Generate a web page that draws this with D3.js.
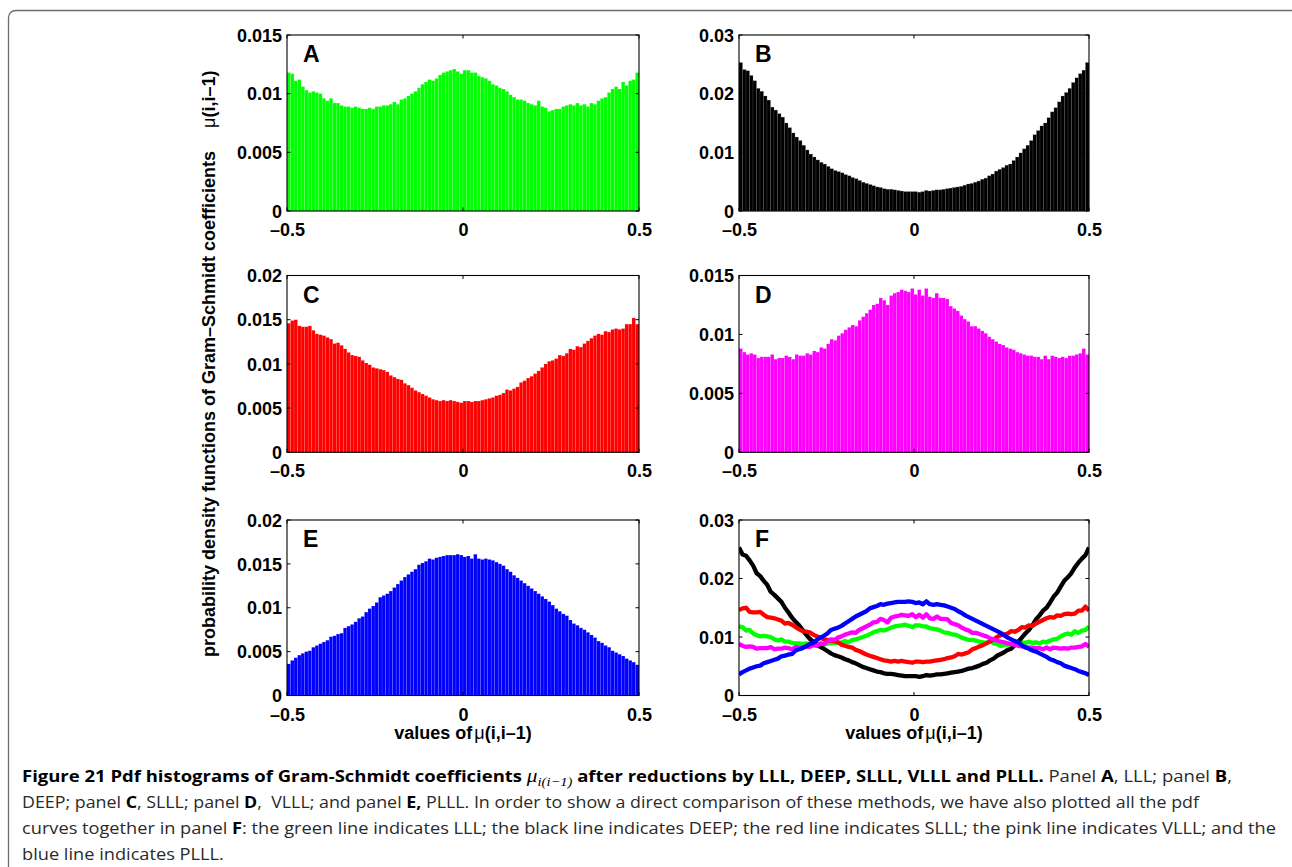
<!DOCTYPE html>
<html>
<head>
<meta charset="utf-8">
<script src="https://cdn.jsdelivr.net/npm/d3@7"></script>
<style>
  body { margin: 0; background: #fff; }
  svg { display: block; }
</style>
</head>
<body>
<svg id="fig" width="1292" height="867"></svg>
<script>
// Empirical pdf of mu(i,i-1), 100 equal bins over [-0.5, 0.5], one array per reduction method.
const lllPdf = [
  0.0118, 0.0117, 0.0111, 0.0112, 0.0106, 0.0103, 0.0101, 0.0102, 0.0101, 0.0100,
  0.0096, 0.0094, 0.0096, 0.0092, 0.0092, 0.0090, 0.0089, 0.0089, 0.0088, 0.0089,
  0.0088, 0.0087, 0.0087, 0.0088, 0.0087, 0.0089, 0.0089, 0.0090, 0.0090, 0.0091,
  0.0093, 0.0091, 0.0095, 0.0096, 0.0098, 0.0100, 0.0102, 0.0105, 0.0108, 0.0110,
  0.0112, 0.0111, 0.0113, 0.0116, 0.0118, 0.0119, 0.0120, 0.0121, 0.0119, 0.0117,
  0.0120, 0.0120, 0.0118, 0.0118, 0.0115, 0.0114, 0.0113, 0.0111, 0.0108, 0.0107,
  0.0105, 0.0104, 0.0102, 0.0099, 0.0097, 0.0095, 0.0095, 0.0094, 0.0092, 0.0091,
  0.0090, 0.0094, 0.0089, 0.0088, 0.0085, 0.0086, 0.0087, 0.0087, 0.0089, 0.0090,
  0.0091, 0.0090, 0.0092, 0.0090, 0.0091, 0.0089, 0.0092, 0.0091, 0.0094, 0.0096,
  0.0097, 0.0101, 0.0104, 0.0106, 0.0104, 0.0110, 0.0107, 0.0111, 0.0112, 0.0118
];
const deepPdf = [
  0.0253, 0.0241, 0.0239, 0.0231, 0.0222, 0.0209, 0.0204, 0.0196, 0.0189, 0.0177,
  0.0172, 0.0166, 0.0160, 0.0150, 0.0142, 0.0133, 0.0126, 0.0120, 0.0112, 0.0104,
  0.0097, 0.0092, 0.0087, 0.0083, 0.0080, 0.0076, 0.0072, 0.0069, 0.0067, 0.0065,
  0.0062, 0.0060, 0.0057, 0.0055, 0.0052, 0.0049, 0.0047, 0.0045, 0.0043, 0.0041,
  0.0040, 0.0038, 0.0037, 0.0037, 0.0036, 0.0035, 0.0034, 0.0033, 0.0033, 0.0033,
  0.0033, 0.0032, 0.0033, 0.0035, 0.0034, 0.0035, 0.0036, 0.0036, 0.0037, 0.0038,
  0.0039, 0.0040, 0.0041, 0.0042, 0.0044, 0.0046, 0.0047, 0.0049, 0.0051, 0.0054,
  0.0056, 0.0060, 0.0063, 0.0068, 0.0071, 0.0074, 0.0078, 0.0080, 0.0086, 0.0092,
  0.0099, 0.0106, 0.0112, 0.0120, 0.0130, 0.0137, 0.0145, 0.0150, 0.0159, 0.0169,
  0.0176, 0.0186, 0.0196, 0.0202, 0.0209, 0.0219, 0.0227, 0.0234, 0.0240, 0.0253
];
const slllPdf = [
  0.0146, 0.0149, 0.0150, 0.0143, 0.0142, 0.0142, 0.0143, 0.0138, 0.0134, 0.0133,
  0.0132, 0.0130, 0.0128, 0.0123, 0.0124, 0.0121, 0.0117, 0.0113, 0.0110, 0.0109,
  0.0108, 0.0104, 0.0101, 0.0099, 0.0096, 0.0095, 0.0094, 0.0093, 0.0091, 0.0087,
  0.0085, 0.0083, 0.0082, 0.0078, 0.0076, 0.0073, 0.0070, 0.0068, 0.0066, 0.0064,
  0.0062, 0.0060, 0.0059, 0.0058, 0.0059, 0.0058, 0.0059, 0.0058, 0.0057, 0.0056,
  0.0058, 0.0058, 0.0057, 0.0058, 0.0058, 0.0059, 0.0060, 0.0061, 0.0062, 0.0064,
  0.0065, 0.0067, 0.0071, 0.0070, 0.0072, 0.0074, 0.0079, 0.0081, 0.0084, 0.0086,
  0.0089, 0.0092, 0.0096, 0.0100, 0.0103, 0.0104, 0.0106, 0.0110, 0.0109, 0.0112,
  0.0117, 0.0116, 0.0120, 0.0119, 0.0123, 0.0126, 0.0129, 0.0132, 0.0134, 0.0133,
  0.0137, 0.0136, 0.0139, 0.0140, 0.0139, 0.0140, 0.0145, 0.0145, 0.0152, 0.0145
];
const vlllPdf = [
  0.0088, 0.0085, 0.0083, 0.0084, 0.0083, 0.0080, 0.0081, 0.0081, 0.0081, 0.0083,
  0.0079, 0.0080, 0.0080, 0.0082, 0.0081, 0.0079, 0.0083, 0.0082, 0.0082, 0.0084,
  0.0083, 0.0086, 0.0085, 0.0089, 0.0088, 0.0092, 0.0096, 0.0095, 0.0099, 0.0101,
  0.0104, 0.0106, 0.0108, 0.0107, 0.0112, 0.0115, 0.0118, 0.0121, 0.0125, 0.0126,
  0.0131, 0.0129, 0.0125, 0.0133, 0.0135, 0.0136, 0.0138, 0.0137, 0.0136, 0.0139,
  0.0134, 0.0138, 0.0133, 0.0139, 0.0132, 0.0131, 0.0135, 0.0131, 0.0131, 0.0130,
  0.0124, 0.0122, 0.0120, 0.0116, 0.0113, 0.0111, 0.0107, 0.0107, 0.0105, 0.0103,
  0.0101, 0.0098, 0.0096, 0.0094, 0.0092, 0.0091, 0.0089, 0.0088, 0.0087, 0.0085,
  0.0084, 0.0083, 0.0082, 0.0082, 0.0081, 0.0081, 0.0079, 0.0082, 0.0079, 0.0082,
  0.0081, 0.0080, 0.0081, 0.0080, 0.0082, 0.0082, 0.0083, 0.0084, 0.0088, 0.0083
];
const plllPdf = [
  0.0036, 0.0040, 0.0043, 0.0046, 0.0048, 0.0050, 0.0051, 0.0055, 0.0057, 0.0059,
  0.0061, 0.0063, 0.0067, 0.0068, 0.0070, 0.0071, 0.0077, 0.0079, 0.0081, 0.0084,
  0.0088, 0.0090, 0.0095, 0.0099, 0.0102, 0.0106, 0.0112, 0.0114, 0.0116, 0.0119,
  0.0123, 0.0127, 0.0131, 0.0135, 0.0138, 0.0141, 0.0144, 0.0149, 0.0151, 0.0153,
  0.0156, 0.0155, 0.0157, 0.0158, 0.0159, 0.0160, 0.0160, 0.0160, 0.0161, 0.0160,
  0.0158, 0.0159, 0.0156, 0.0161, 0.0156, 0.0155, 0.0156, 0.0155, 0.0154, 0.0152,
  0.0150, 0.0148, 0.0144, 0.0141, 0.0137, 0.0134, 0.0131, 0.0128, 0.0125, 0.0122,
  0.0119, 0.0116, 0.0113, 0.0110, 0.0107, 0.0103, 0.0099, 0.0096, 0.0093, 0.0091,
  0.0086, 0.0082, 0.0080, 0.0077, 0.0075, 0.0072, 0.0069, 0.0066, 0.0062, 0.0060,
  0.0057, 0.0055, 0.0051, 0.0049, 0.0047, 0.0045, 0.0042, 0.0040, 0.0038, 0.0035
];

// Axis ticks and their printed labels
const xTicks = [-0.5, 0, 0.5];
const xTickLabels = ["\u20130.5", "0", "0.5"];
const yTicks015 = [0, 0.005, 0.01, 0.015];
const yLabels015 = ["0", "0.005", "0.01", "0.015"];
const yTicks02 = [0, 0.005, 0.01, 0.015, 0.02];
const yLabels02 = ["0", "0.005", "0.01", "0.015", "0.02"];
const yTicks03 = [0, 0.01, 0.02, 0.03];
const yLabels03 = ["0", "0.01", "0.02", "0.03"];

const methodNames = ["LLL", "DEEP", "SLLL", "VLLL", "PLLL"];
const methodColors = ["#00ff00", "#000000", "#ff0000", "#ff00ff", "#0000ff"];
const methodSeries = [lllPdf, deepPdf, slllPdf, vlllPdf, plllPdf];

// ---- layout ----
const colX = [[287, 639], [739, 1089]];
const rowY = [[35, 211], [275.5, 452.3], [520, 695.5]];
const axisFont = "'Liberation Sans', Arial, Helvetica, sans-serif";
const tickLen = 3.5;

const svg = d3.select("#fig");

// outer frame of the figure box
svg.append("rect")
  .attr("x", 8.5).attr("y", 10.5)
  .attr("width", 1300).attr("height", 900)
  .attr("rx", 7).attr("ry", 7)
  .attr("fill", "none").attr("stroke", "#6d6d6d").attr("stroke-width", 1.3);

const panels = [
  { letter: "A", col: 0, row: 0, kind: "bar", series: [0], ticks: yTicks015, labels: yLabels015 },
  { letter: "B", col: 1, row: 0, kind: "bar", series: [1], ticks: yTicks03, labels: yLabels03 },
  { letter: "C", col: 0, row: 1, kind: "bar", series: [2], ticks: yTicks02, labels: yLabels02 },
  { letter: "D", col: 1, row: 1, kind: "bar", series: [3], ticks: yTicks015, labels: yLabels015 },
  { letter: "E", col: 0, row: 2, kind: "bar", series: [4], ticks: yTicks02, labels: yLabels02 },
  { letter: "F", col: 1, row: 2, kind: "line", series: [0, 1, 2, 3, 4], ticks: yTicks03, labels: yLabels03 }
];

const defs = svg.append("defs");

panels.forEach((p, pi) => {
  const [x0, x1] = colX[p.col];
  const [y0, y1] = rowY[p.row];
  const yMax = p.ticks[p.ticks.length - 1];

  const x = d3.scaleLinear().domain([-0.5, 0.5]).range([x0, x1]);
  const y = d3.scaleLinear().domain([0, yMax]).range([y1, y0]);
  const g = svg.append("g");

  if (p.kind === "bar") {
    const s = p.series[0];
    const data = methodSeries[s];
    const band = d3.scaleBand().domain(d3.range(data.length)).range([x0, x1]).padding(0);
    g.append("g").selectAll("rect")
      .data(data)
      .join("rect")
      .attr("x", (d, i) => band(i))
      .attr("width", band.bandwidth())
      .attr("y", d => y(d))
      .attr("height", d => y(0) - y(d))
      .attr("fill", methodColors[s])
      .attr("stroke", s === 1 ? "rgba(110,110,110,0.45)" : "rgba(255,255,255,0.2)")
      .attr("stroke-width", 0.5);
  } else {
    const clipId = "clip" + pi;
    defs.append("clipPath").attr("id", clipId)
      .append("rect").attr("x", x0).attr("y", y0).attr("width", x1 - x0).attr("height", y1 - y0);
    const lg = g.append("g").attr("clip-path", `url(#${clipId})`);
    p.series.forEach(s => {
      const data = methodSeries[s];
      const xi = d3.scaleLinear().domain([0, data.length - 1]).range([x0, x1]);
      const line = d3.line().x((d, i) => xi(i)).y(d => y(d));
      lg.append("path")
        .datum(data)
        .attr("d", line)
        .attr("fill", "none")
        .attr("stroke", methodColors[s])
        .attr("stroke-width", 4.3)
        .attr("stroke-linejoin", "round")
        .attr("stroke-linecap", "butt");
    });
  }

  // axes: bottom/left labelled, ticks pointing inward on all four sides
  const bottom = d3.axisBottom(x).tickValues(xTicks).tickSize(0).tickPadding(0)
    .tickFormat((d, i) => xTickLabels[i]);
  const left = d3.axisLeft(y).tickValues(p.ticks).tickSize(0).tickPadding(0)
    .tickFormat((d, i) => p.labels[i]);

  const gb = g.append("g").attr("transform", `translate(0,${y1})`).call(bottom);
  gb.select(".domain").remove();
  gb.selectAll("text")
    .attr("y", 25).attr("dy", 0)
    .attr("font-family", axisFont).attr("font-weight", "bold").attr("font-size", 18)
    .attr("fill", "#000");

  const gl = g.append("g").attr("transform", `translate(${x0},0)`).call(left);
  gl.select(".domain").remove();
  gl.selectAll("text")
    .attr("x", -5).attr("dy", "0.34em")
    .attr("font-family", axisFont).attr("font-weight", "bold").attr("font-size", 18)
    .attr("fill", "#000");

  const tk = g.append("g").attr("stroke", "#000").attr("stroke-width", 1);
  xTicks.forEach(v => {
    tk.append("line").attr("x1", x(v)).attr("x2", x(v)).attr("y1", y1).attr("y2", y1 - tickLen);
    tk.append("line").attr("x1", x(v)).attr("x2", x(v)).attr("y1", y0).attr("y2", y0 + tickLen);
  });
  p.ticks.forEach(v => {
    tk.append("line").attr("x1", x0).attr("x2", x0 + tickLen).attr("y1", y(v)).attr("y2", y(v));
    tk.append("line").attr("x1", x1).attr("x2", x1 - tickLen).attr("y1", y(v)).attr("y2", y(v));
  });

  g.append("rect")
    .attr("x", x0).attr("y", y0).attr("width", x1 - x0).attr("height", y1 - y0)
    .attr("fill", "none").attr("stroke", "#000").attr("stroke-width", 1.1);

  g.append("text")
    .attr("x", x0 + 16).attr("y", y0 + 27)
    .attr("font-family", axisFont).attr("font-weight", "bold").attr("font-size", 23)
    .attr("fill", "#000")
    .text(p.letter);

  // x-axis title under the bottom row
  if (p.row === 2) {
    const t = g.append("text")
      .attr("x", (x0 + x1) / 2).attr("y", 739)
      .attr("text-anchor", "middle")
      .attr("font-family", axisFont).attr("font-weight", "bold").attr("font-size", 18)
      .attr("fill", "#000");
    t.append("tspan").text("values of");
    t.append("tspan").attr("font-weight", "normal").attr("dx", 2).text("\u03bc");
    t.append("tspan").text("(i,i\u20131)");
  }
});

// shared y-axis title
const yt = svg.append("text")
  .attr("transform", "translate(215,657) rotate(-90)")
  .attr("font-family", axisFont).attr("font-weight", "bold").attr("font-size", 18)
  .attr("fill", "#000");
yt.append("tspan").text("probability density functions of Gram\u2013Schmidt coefficients");
yt.append("tspan").attr("dx", 23).attr("font-weight", "normal").text("\u03bc");
yt.append("tspan").text("(i,i\u20131)");

// ---- caption ----
const capFont = "'Open Sans', 'Noto Sans', sans-serif";
const capLines = [
  { y: 782, len: 1210, parts: [
    { t: "Figure 21 Pdf histograms of Gram-Schmidt coefficients ", b: true },
    { t: "\u03bc", m: true },
    { t: "i(i\u22121)", m: true, sub: true },
    { t: " after reductions by LLL, DEEP, SLLL, VLLL and PLLL.", b: true, shift: true },
    { t: " Panel " }, { t: "A", b: true }, { t: ", LLL; panel " }, { t: "B", b: true }, { t: "," }
  ]},
  { y: 808, len: 1177, parts: [
    { t: "DEEP; panel " }, { t: "C", b: true }, { t: ", SLLL; panel " }, { t: "D", b: true },
    { t: ",  VLLL; and panel " }, { t: "E,", b: true },
    { t: " PLLL. In order to show a direct comparison of these methods, we have also plotted all the pdf" }
  ]},
  { y: 834, len: 1254, parts: [
    { t: "curves together in panel " }, { t: "F", b: true },
    { t: ": the green line indicates LLL; the black line indicates DEEP; the red line indicates SLLL; the pink line indicates VLLL; and the" }
  ]},
  { y: 860, len: null, parts: [ { t: "blue line indicates PLLL." } ] }
];

const capTexts = capLines.map(line => {
  const t = svg.append("text")
    .attr("x", 22).attr("y", line.y)
    .attr("font-family", capFont).attr("font-size", 16.5)
    .attr("fill", "#2a2a2a")
    .attr("xml:space", "preserve");
  line.parts.forEach(part => {
    const ts = t.append("tspan").text(part.t);
    if (part.b) ts.attr("font-weight", "bold").attr("fill", "#000");
    if (part.m) {
      ts.attr("font-family", "'Liberation Serif', 'DejaVu Serif', serif")
        .attr("font-style", "italic").attr("fill", "#000").attr("font-size", 19);
    }
    if (part.sub) ts.attr("font-size", 13).attr("dy", 4);
    if (part.shift) ts.attr("dy", -4);
  });
  return t;
});

// condense the caption to its column: the last line gets the same squeeze as the full line above it
const refNatural = capTexts[2].node().getComputedTextLength();
const squeeze = capLines[2].len / refNatural;
capTexts.forEach((t, i) => {
  const natural = t.node().getComputedTextLength();
  const len = capLines[i].len || natural * squeeze;
  t.attr("textLength", len).attr("lengthAdjust", "spacingAndGlyphs");
});
</script>
</body>
</html>
